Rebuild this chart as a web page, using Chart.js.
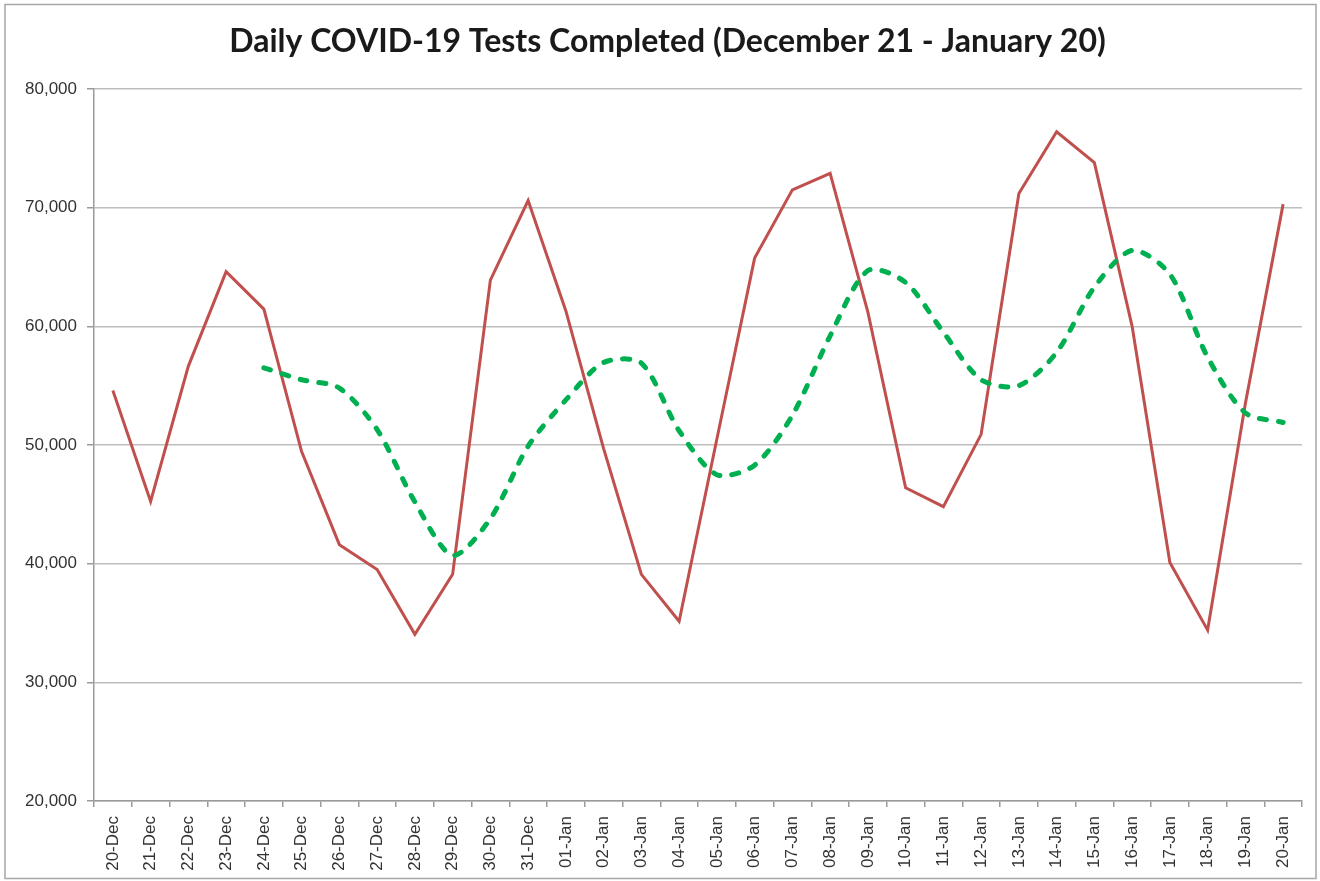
<!DOCTYPE html>
<html>
<head>
<meta charset="utf-8">
<script src="https://cdn.jsdelivr.net/npm/chart.js@4"></script>
<style>
  html, body { margin: 0; padding: 0; background: #ffffff; }
  #wrap { position: relative; width: 1320px; height: 881px; }
  canvas { display: block; }
</style>
</head>
<body>
<div id="wrap"><canvas id="c" width="1320" height="881"></canvas></div>
<script>
const categories = [
  "20-Dec","21-Dec","22-Dec","23-Dec","24-Dec","25-Dec","26-Dec","27-Dec","28-Dec","29-Dec","30-Dec","31-Dec",
  "01-Jan","02-Jan","03-Jan","04-Jan","05-Jan","06-Jan","07-Jan","08-Jan","09-Jan","10-Jan","11-Jan","12-Jan",
  "13-Jan","14-Jan","15-Jan","16-Jan","17-Jan","18-Jan","19-Jan","20-Jan"
];
const dailyTests = [
  54600, 45250, 56650, 64600, 61450, 49450, 41600, 39500, 34050, 39100, 63900, 70600,
  61300, 49700, 39100, 35150, 50500, 65750, 71500, 72900, 61200, 46400, 44800, 50900,
  71200, 76400, 73800, 60000, 40100, 34400, 53500, 70300
];
const sevenDayAverage = [
  null, null, null, null, 56500, 55500, 54800, 51300, 45200, 40700, 43800, 49900,
  53800, 56950, 56900, 51200, 47500, 48300, 52500, 59200, 64700, 63700, 59500, 55500,
  55000, 57800, 63300, 66400, 64400, 57400, 52700, 51900
];
const yTickValues = [20000, 30000, 40000, 50000, 60000, 70000, 80000];
const yTickLabels = ["20,000", "30,000", "40,000", "50,000", "60,000", "70,000", "80,000"];
const chartTitle = "Daily COVID-19 Tests Completed (December 21 - January 20)";

const frame = {
  id: 'frame',
  beforeDraw(chart) {
    const ctx = chart.ctx;
    ctx.save();
    ctx.fillStyle = '#ffffff';
    ctx.fillRect(0, 0, chart.width, chart.height);
    ctx.restore();
  },
  afterLayout(chart) {
    if (chart.titleBlock) {
      chart.titleBlock.left = 33;
      chart.titleBlock.right = chart.chartArea.right;
    }
  },
  afterDraw(chart) {
    const ctx = chart.ctx;
    ctx.save();
    ctx.strokeStyle = '#a6a6a6';
    ctx.lineWidth = 1.5;
    ctx.strokeRect(5, 4.5, 1311, 874);
    ctx.restore();
  }
};

const tickFont = { family: "Liberation Sans", size: 17 };

new Chart(document.getElementById('c'), {
  type: 'line',
  data: {
    labels: categories,
    datasets: [
      {
        label: 'Daily tests',
        data: dailyTests,
        borderColor: '#C0504D',
        borderWidth: 3,
        pointRadius: 0,
        tension: 0,
        fill: false,
        order: 1
      },
      {
        label: '7-day average',
        data: sevenDayAverage,
        borderColor: '#00B050',
        borderWidth: 5,
        borderDash: [7, 12],
        borderCapStyle: 'round',
        pointRadius: 0,
        tension: 0.28,
        spanGaps: false,
        fill: false,
        order: 0
      }
    ]
  },
  options: {
    responsive: false,
    animation: false,
    devicePixelRatio: 1,
    layout: { padding: { left: 10, right: 18, top: 0, bottom: 4 } },
    plugins: {
      legend: { display: false },
      tooltip: { enabled: false },
      title: {
        display: true,
        text: chartTitle,
        color: '#1a1a1a',
        font: { family: "Lato", size: 32, weight: 'bold', lineHeight: 1.2 },
        padding: { top: 22, bottom: 28.6 }
      }
    },
    scales: {
      x: {
        type: 'category',
        offset: true,
        grid: { offset: true, drawOnChartArea: false, drawTicks: true, tickLength: 6, color: '#9a9a9a', lineWidth: 1.5 },
        border: { display: true, color: '#9a9a9a', width: 1.5 },
        ticks: { autoSkip: false, minRotation: 90, maxRotation: 90, padding: 9, color: '#333333', font: tickFont },
        afterFit(scale) { scale.height = 881 - 801 - 4; }
      },
      y: {
        min: 20000,
        max: 80000,
        afterBuildTicks(scale) { scale.ticks = yTickValues.map(v => ({ value: v })); },
        grid: { color: '#bdbdbd', lineWidth: 1.5, drawTicks: true, tickLength: 7, tickColor: '#9a9a9a' },
        border: { display: true, color: '#9a9a9a', width: 1.5 },
        ticks: {
          padding: 10,
          color: '#333333',
          font: tickFont,
          callback(value) { const i = yTickValues.indexOf(value); return i >= 0 ? yTickLabels[i] : ''; }
        },
        afterFit(scale) { scale.width = 94 - 10; }
      }
    }
  },
  plugins: [frame]
});
</script>
</body>
</html>
